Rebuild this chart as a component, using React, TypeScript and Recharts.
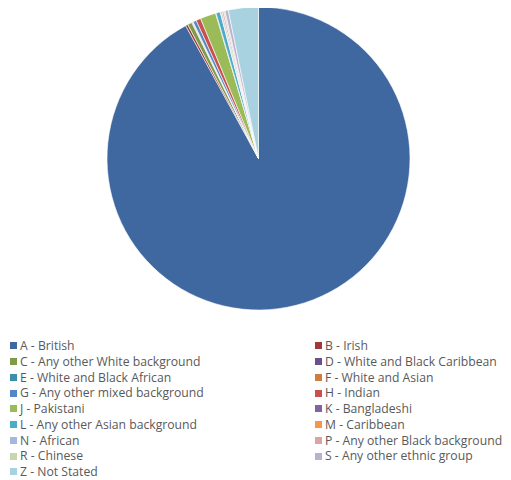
import { PieChart, Pie, Cell, Legend } from 'recharts';

const groups = [
  'A - British',
  'B - Irish',
  'C - Any other White background',
  'D - White and Black Caribbean',
  'E - White and Black African',
  'F - White and Asian',
  'G - Any other mixed background',
  'H - Indian',
  'J - Pakistani',
  'K - Bangladeshi',
  'L - Any other Asian background',
  'M - Caribbean',
  'N - African',
  'P - Any other Black background',
  'R - Chinese',
  'S - Any other ethnic group',
  'Z - Not Stated',
];

const shares = [92.0, 0.25, 0.47, 0.06, 0.05, 0.05, 0.36, 0.5, 1.67, 0.05, 0.45, 0.05, 0.15, 0.17, 0.15, 0.35, 3.2];

const colors = [
  '#3F67A0', '#A0393A', '#7F9A48', '#68518A', '#3B8FA6', '#D07D3C',
  '#5587C8', '#C8504D', '#9BBB59', '#8064A2', '#4BACC6', '#F79646',
  '#A5B7DC', '#DBA4A3', '#C6D7AE', '#BCB0CF', '#A8D2E0',
];

const chartData = groups.map((name, i) => ({ name, value: shares[i] }));

function TwoColumnLegend({ payload }: any) {
  const items = payload || [];
  return (
    <div
      style={{
        display: 'grid',
        gridTemplateColumns: '305px 198px',
        fontFamily: '"Open Sans", sans-serif',
        fontSize: 12.2,
        lineHeight: '15.75px',
        color: '#595959',
      }}
    >
      {items.map((entry: any) => (
        <div
          key={entry.value}
          style={{ display: 'flex', alignItems: 'center', height: 15.75, whiteSpace: 'nowrap' }}
        >
          <span
            style={{
              display: 'inline-block',
              width: 7,
              height: 7,
              marginLeft: 2,
              marginRight: 3,
              background: entry.color,
            }}
          />
          {entry.value}
        </div>
      ))}
    </div>
  );
}

export default function App() {
  return (
    <div style={{ width: 503, height: 472, background: '#fff' }}>
      <PieChart width={503} height={472} margin={{ top: 0, right: 0, bottom: 0, left: 0 }}>
        <Pie
          data={chartData}
          dataKey="value"
          nameKey="name"
          cx={250.5}
          cy={150.5}
          outerRadius={151.5}
          startAngle={90}
          endAngle={-270}
          stroke="#ffffff"
          strokeWidth={0.6}
          isAnimationActive={false}
        >
          {chartData.map((d, i) => (
            <Cell key={d.name} fill={colors[i]} />
          ))}
        </Pie>
        <Legend
          content={<TwoColumnLegend />}
          wrapperStyle={{ left: 0, top: 330, width: 503 }}
        />
      </PieChart>
    </div>
  );
}
